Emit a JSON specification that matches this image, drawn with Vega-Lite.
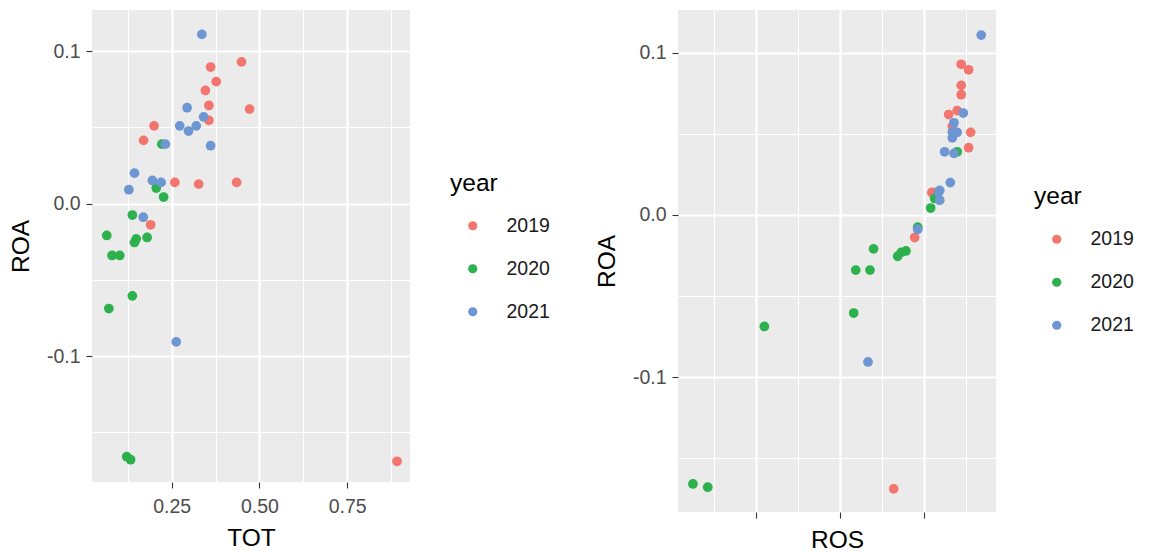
{
  "$schema": "https://vega.github.io/schema/vega-lite/v6.json",
  "background": "white",
  "padding": {"left": 8, "top": 10, "right": 0, "bottom": 0},
  "autosize": {"type": "pad"},
  "bounds": "flush",
  "spacing": 268,
  "config": {
    "font": "Liberation Sans",
    "view": {"fill": "#EBEBEB", "stroke": null},
    "axis": {
      "domain": false,
      "tickColor": "#333333",
      "tickWidth": 1.1,
      "tickSize": 6,
      "labelColor": "#4D4D4D",
      "labelFontSize": 19.5,
      "labelPadding": 6,
      "titleFontSize": 24.5,
      "titleFontWeight": "normal",
      "titleColor": "#000000",
      "grid": true,
      "gridColor": "#FFFFFF",
      "gridWidth": 2.2
    },
    "legend": {
      "orient": "none",
      "titleFontSize": 24.5,
      "titleFontWeight": "normal",
      "titleColor": "#000000",
      "labelFontSize": 19.5,
      "labelColor": "#1A1A1A",
      "symbolType": "circle",
      "symbolSize": 85,
      "symbolStrokeWidth": 0,
      "symbolOffset": 13,
      "labelOffset": 24,
      "rowPadding": 22,
      "titlePadding": 20
    }
  },
  "datasets": {
    "d": [
      {"year": "2019", "TOT": 0.449, "ROA": 0.093, "ROS": 0.220},
      {"year": "2019", "TOT": 0.361, "ROA": 0.0896, "ROS": 0.264},
      {"year": "2019", "TOT": 0.377, "ROA": 0.080, "ROS": 0.220},
      {"year": "2019", "TOT": 0.346, "ROA": 0.0742, "ROS": 0.220},
      {"year": "2019", "TOT": 0.356, "ROA": 0.0644, "ROS": 0.196},
      {"year": "2019", "TOT": 0.472, "ROA": 0.062, "ROS": 0.145},
      {"year": "2019", "TOT": 0.356, "ROA": 0.0546, "ROS": 0.167},
      {"year": "2019", "TOT": 0.200, "ROA": 0.051, "ROS": 0.276},
      {"year": "2019", "TOT": 0.170, "ROA": 0.0415, "ROS": 0.264},
      {"year": "2019", "TOT": 0.259, "ROA": 0.0139, "ROS": 0.045},
      {"year": "2019", "TOT": 0.327, "ROA": 0.0128, "ROS": 0.060},
      {"year": "2019", "TOT": 0.435, "ROA": 0.0139, "ROS": 0.070},
      {"year": "2019", "TOT": 0.190, "ROA": -0.0139, "ROS": -0.057},
      {"year": "2019", "TOT": 0.892, "ROA": -0.169, "ROS": -0.182},
      {"year": "2020", "TOT": 0.222, "ROA": 0.039, "ROS": 0.196},
      {"year": "2020", "TOT": 0.206, "ROA": 0.0102, "ROS": 0.062},
      {"year": "2020", "TOT": 0.227, "ROA": 0.0043, "ROS": 0.038},
      {"year": "2020", "TOT": 0.138, "ROA": -0.0075, "ROS": -0.039},
      {"year": "2020", "TOT": 0.065, "ROA": -0.0209, "ROS": -0.302},
      {"year": "2020", "TOT": 0.180, "ROA": -0.0222, "ROS": -0.109},
      {"year": "2020", "TOT": 0.149, "ROA": -0.0231, "ROS": -0.137},
      {"year": "2020", "TOT": 0.144, "ROA": -0.0255, "ROS": -0.158},
      {"year": "2020", "TOT": 0.080, "ROA": -0.034, "ROS": -0.408},
      {"year": "2020", "TOT": 0.102, "ROA": -0.034, "ROS": -0.323},
      {"year": "2020", "TOT": 0.138, "ROA": -0.0605, "ROS": -0.420},
      {"year": "2020", "TOT": 0.071, "ROA": -0.0688, "ROS": -0.952},
      {"year": "2020", "TOT": 0.122, "ROA": -0.166, "ROS": -1.377},
      {"year": "2020", "TOT": 0.133, "ROA": -0.168, "ROS": -1.289},
      {"year": "2021", "TOT": 0.336, "ROA": 0.111, "ROS": 0.339},
      {"year": "2021", "TOT": 0.294, "ROA": 0.0629, "ROS": 0.232},
      {"year": "2021", "TOT": 0.341, "ROA": 0.0569, "ROS": 0.177},
      {"year": "2021", "TOT": 0.273, "ROA": 0.051, "ROS": 0.167},
      {"year": "2021", "TOT": 0.320, "ROA": 0.051, "ROS": 0.196},
      {"year": "2021", "TOT": 0.298, "ROA": 0.0476, "ROS": 0.167},
      {"year": "2021", "TOT": 0.232, "ROA": 0.039, "ROS": 0.121},
      {"year": "2021", "TOT": 0.361, "ROA": 0.038, "ROS": 0.177},
      {"year": "2021", "TOT": 0.144, "ROA": 0.020, "ROS": 0.155},
      {"year": "2021", "TOT": 0.195, "ROA": 0.0152, "ROS": 0.092},
      {"year": "2021", "TOT": 0.220, "ROA": 0.0139, "ROS": 0.085},
      {"year": "2021", "TOT": 0.128, "ROA": 0.0091, "ROS": 0.092},
      {"year": "2021", "TOT": 0.169, "ROA": -0.0089, "ROS": -0.039},
      {"year": "2021", "TOT": 0.263, "ROA": -0.0907, "ROS": -0.335}
    ]
  },
  "resolve": {"scale": {"color": "independent"}, "legend": {"color": "independent"}},
  "hconcat": [
    {
      "width": 318,
      "height": 472,
      "data": {"name": "d"},
      "resolve": {"axis": {"x": "independent", "y": "independent"}},
      "layer": [
        {
          "mark": {"type": "point", "opacity": 0},
          "encoding": {
            "x": {"field": "TOT", "type": "quantitative", "scale": {"domain": [0.023, 0.929], "nice": false, "zero": false},
              "axis": {"orient": "bottom", "values": [0.125, 0.375, 0.625, 0.875], "labels": false, "ticks": false, "title": null, "grid": true, "gridWidth": 1.1}},
            "y": {"field": "ROA", "type": "quantitative", "scale": {"domain": [-0.1826, 0.127], "nice": false, "zero": false},
              "axis": {"orient": "left", "values": [-0.15, -0.05, 0.05], "labels": false, "ticks": false, "title": null, "grid": true, "gridWidth": 1.1}}
          }
        },
        {
          "mark": {"type": "circle", "size": 95, "opacity": 1},
          "encoding": {
            "x": {"field": "TOT", "type": "quantitative", "scale": {"domain": [0.023, 0.929], "nice": false, "zero": false},
              "axis": {"orient": "bottom", "values": [0.25, 0.5, 0.75], "format": ".2f", "title": "TOT", "grid": true, "gridWidth": 2.2, "labelPadding": 9, "titlePadding": 11}},
            "y": {"field": "ROA", "type": "quantitative", "scale": {"domain": [-0.1826, 0.127], "nice": false, "zero": false},
              "axis": {"orient": "left", "values": [-0.1, 0, 0.1], "grid": true, "gridWidth": 2.2, "labelExpr": "datum.value < 0 ? '-' + format(-datum.value, '.1f') : format(datum.value, '.1f')", "title": "ROA", "titlePadding": 13}},
            "color": {"field": "year", "type": "nominal",
              "scale": {"domain": ["2019", "2020", "2021"], "range": ["#F2756F", "#2DB14C", "#6D96D2"]},
              "legend": {"title": "year", "legendX": 358, "legendY": 161.5}}
          }
        }
      ]
    },
    {
      "width": 318,
      "height": 502,
      "data": {"name": "d"},
      "resolve": {"axis": {"x": "independent", "y": "independent"}},
      "layer": [
        {
          "mark": {"type": "point", "opacity": 0},
          "encoding": {
            "x": {"field": "ROS", "type": "quantitative", "scale": {"domain": [-1.466, 0.427], "nice": false, "zero": false},
              "axis": {"orient": "bottom", "values": [-1.25, -0.75, -0.25, 0.25], "labels": false, "ticks": false, "title": null, "grid": true, "gridWidth": 1.1}},
            "y": {"field": "ROA", "type": "quantitative", "scale": {"domain": [-0.1833, 0.1265], "nice": false, "zero": false},
              "axis": {"orient": "left", "values": [-0.15, -0.05, 0.05], "labels": false, "ticks": false, "title": null, "grid": true, "gridWidth": 1.1}}
          }
        },
        {
          "mark": {"type": "circle", "size": 95, "opacity": 1},
          "encoding": {
            "x": {"field": "ROS", "type": "quantitative", "scale": {"domain": [-1.466, 0.427], "nice": false, "zero": false},
              "axis": {"orient": "bottom", "values": [-1, -0.5, 0], "labels": false, "grid": true, "gridWidth": 2.2, "title": "ROS", "titlePadding": 10}},
            "y": {"field": "ROA", "type": "quantitative", "scale": {"domain": [-0.1833, 0.1265], "nice": false, "zero": false},
              "axis": {"orient": "left", "values": [-0.1, 0, 0.1], "grid": true, "gridWidth": 2.2, "labelExpr": "datum.value < 0 ? '-' + format(-datum.value, '.1f') : format(datum.value, '.1f')", "title": "ROA", "titlePadding": 13}},
            "color": {"field": "year", "type": "nominal",
              "scale": {"domain": ["2019", "2020", "2021"], "range": ["#F2756F", "#2DB14C", "#6D96D2"]},
              "legend": {"title": "year", "legendX": 356, "legendY": 175}}
          }
        }
      ]
    }
  ]
}
